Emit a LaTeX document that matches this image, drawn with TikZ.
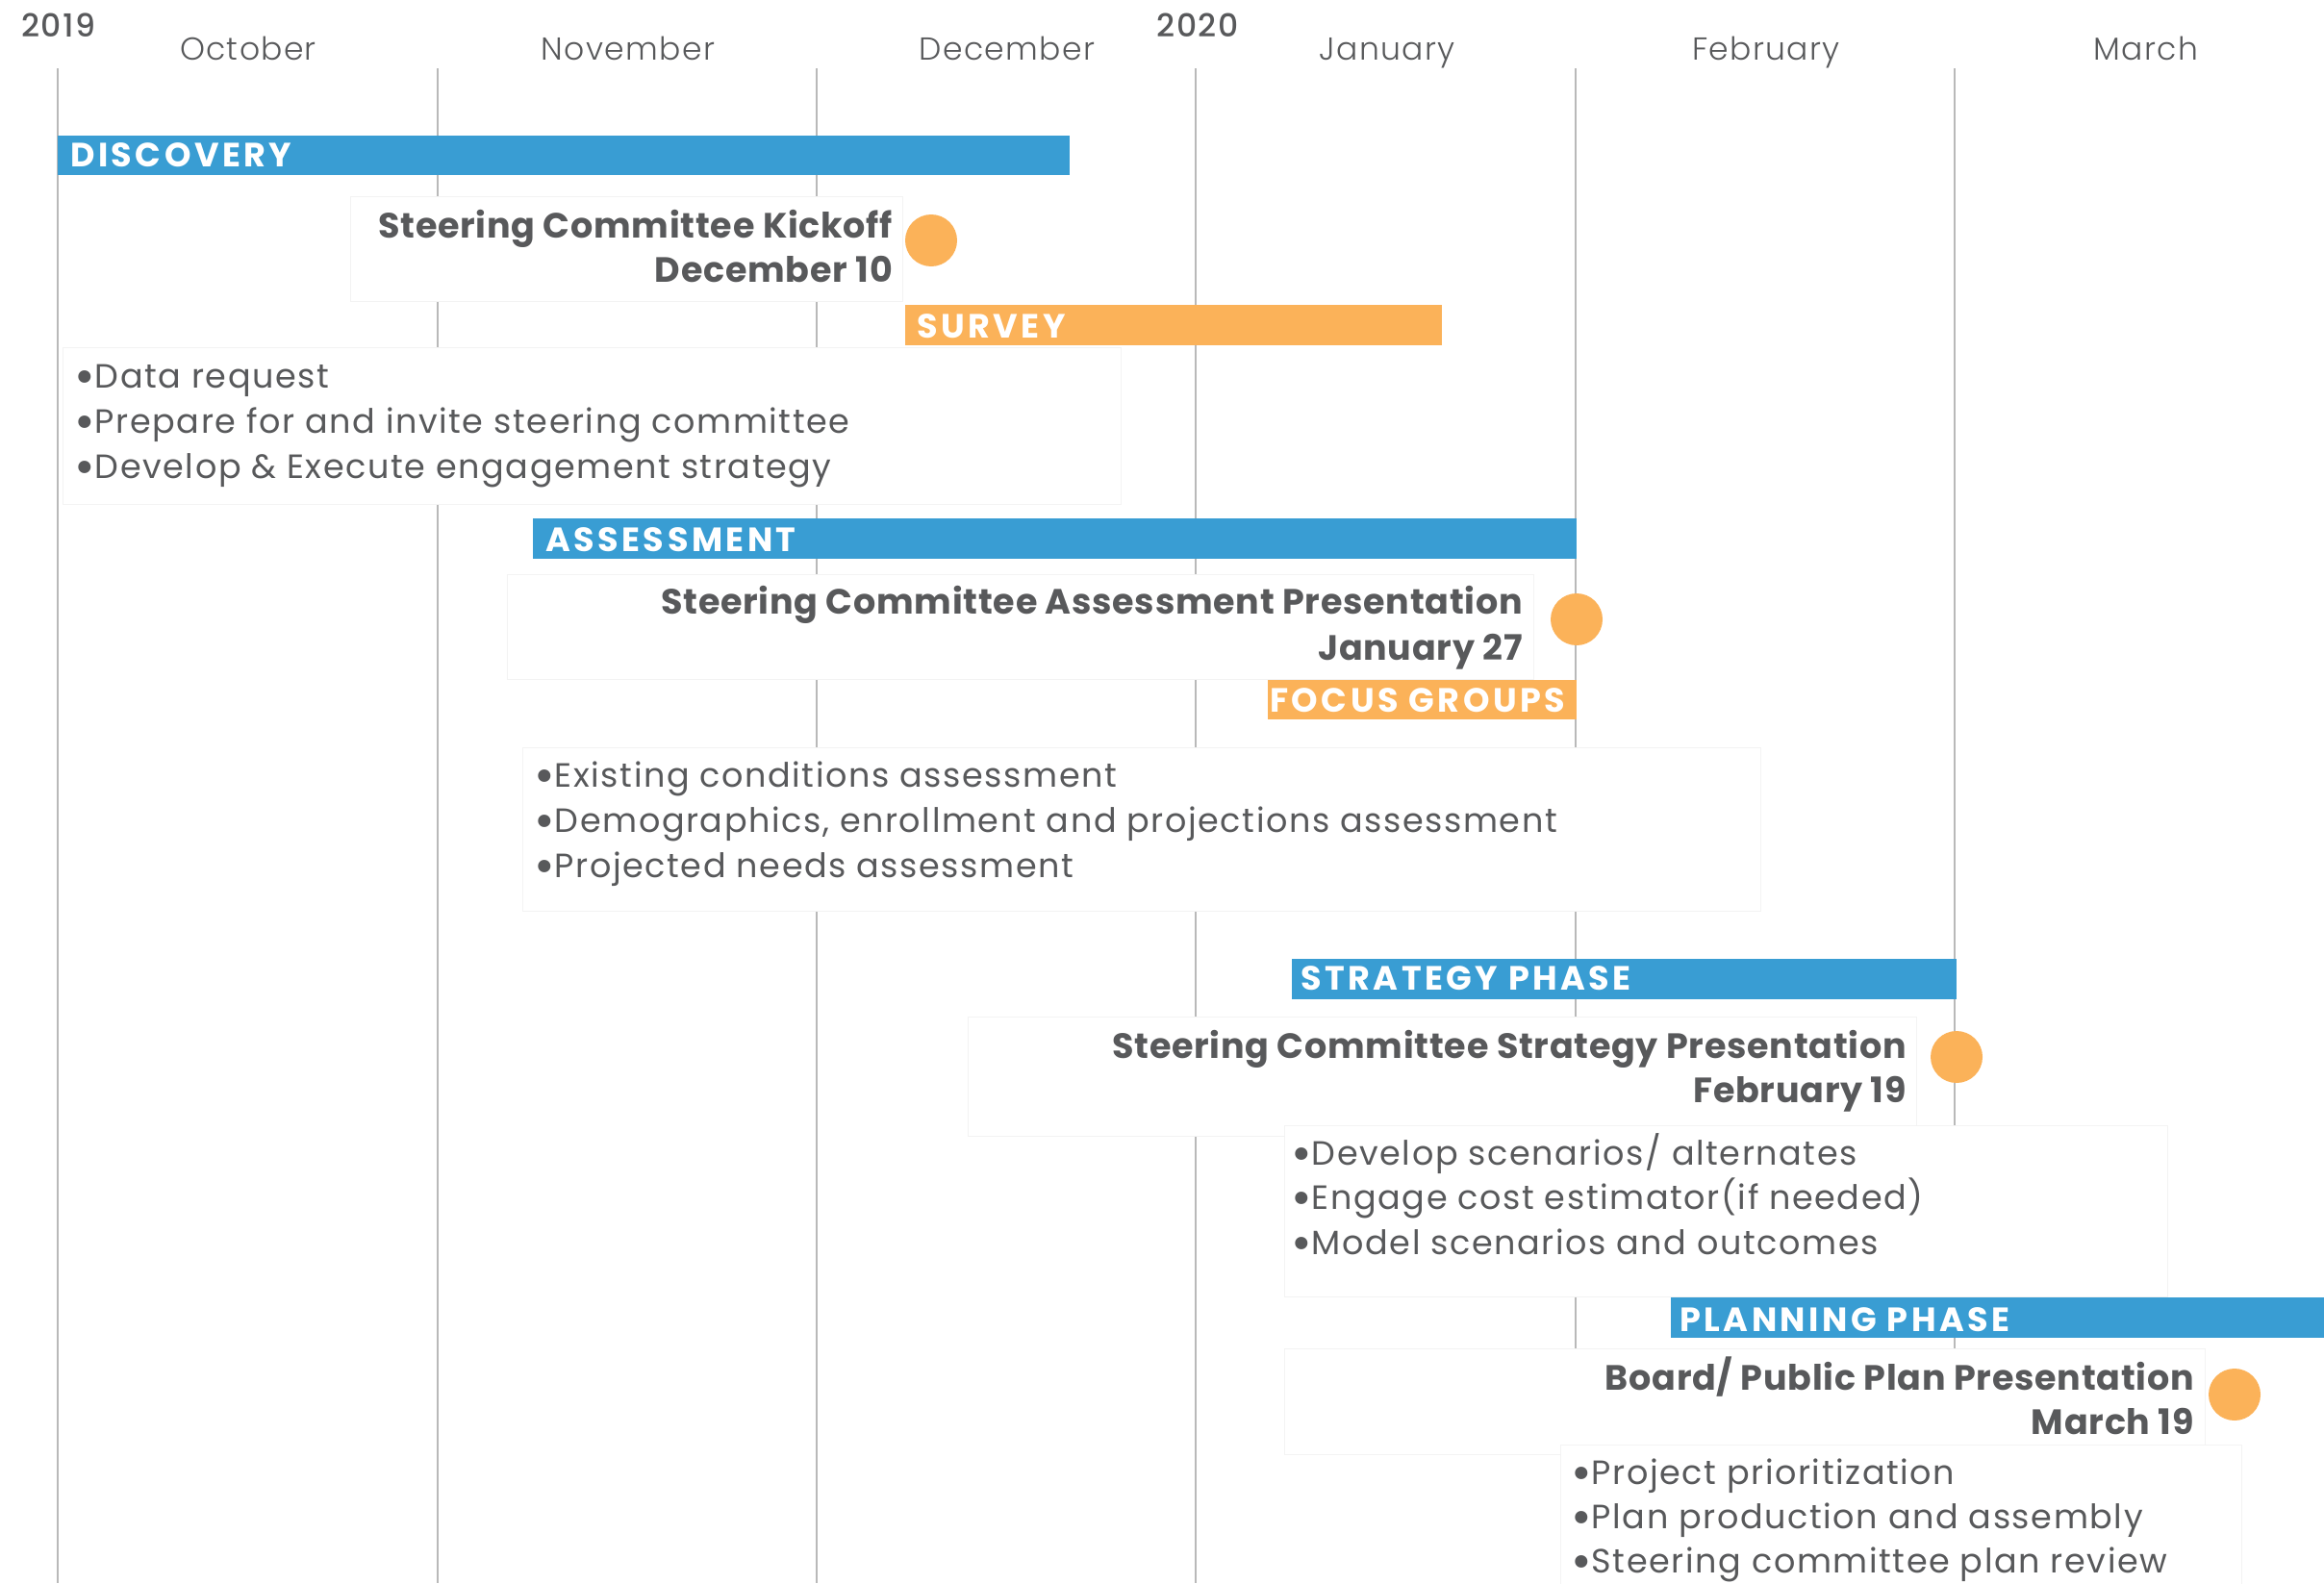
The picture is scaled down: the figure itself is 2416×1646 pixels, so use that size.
\documentclass[tikz,border=0pt]{standalone}
\usepackage{graphicx}
\usepackage{fontspec}
\setmainfont{Poppins}
\IfFontExistsTF{Poppins Light}
  {\newfontfamily\monthfont[LetterSpace=4]{Poppins Light}}
  {\newfontfamily\monthfont[LetterSpace=3]{Poppins}}
\IfFontExistsTF{Poppins Medium}
  {\newfontfamily\yearfont[LetterSpace=5]{Poppins Medium}}
  {\newfontfamily\yearfont[LetterSpace=5]{Poppins}}
\newfontfamily\bulletfont[LetterSpace=4.5]{Poppins}
\newfontfamily\msfont[LetterSpace=2]{Poppins}
\newfontfamily\barfont[LetterSpace=10]{Poppins}
\newcommand{\bul}{\raisebox{-6pt}{\scalebox{1.5}{•}}}
\definecolor{barblue}{RGB}{57,157,211}
\definecolor{barorange}{RGB}{251,178,89}
\definecolor{txt}{RGB}{88,89,91}
\definecolor{gridcol}{RGB}{185,185,185}
\definecolor{boxedge}{RGB}{243,243,243}
\begin{document}
\begin{tikzpicture}[x=1pt,y=-1pt,
  gridline/.style={draw=gridcol,line width=1.8pt},
  whitebox/.style={draw=boxedge,fill=white,line width=1pt},
  bartext/.style={text=white,font=\barfont\fontsize{35}{40}\selectfont\bfseries,anchor=base west,inner sep=0pt},
  monthlbl/.style={text=txt,font=\monthfont\fontsize{33}{38}\selectfont,anchor=base,inner sep=0pt},
  yearlbl/.style={text=txt,font=\yearfont\fontsize{33}{38}\selectfont,anchor=base,inner sep=0pt},
  mstext/.style={text=txt,font=\msfont\fontsize{36.5}{44}\selectfont\bfseries,anchor=base east,inner sep=0pt},
  bullettext/.style={text=txt,font=\bulletfont\fontsize{35}{44}\selectfont,anchor=base west,inner sep=0pt},
  milestone/.style={circle,fill=barorange,minimum size=54pt,inner sep=0pt}
]
\useasboundingbox (0,0) rectangle (2416,1646);
\fill[white] (0,0) rectangle (2416,1646);

% grid lines
\draw[gridline] (60,71) -- (60,1646);
\draw[gridline] (455,71) -- (455,1646);
\draw[gridline] (849,71) -- (849,1646);
\draw[gridline] (1243,71) -- (1243,1646);
\draw[gridline] (1638,71) -- (1638,1646);
\draw[gridline] (2032,71) -- (2032,1646);

% header
\node[yearlbl] (y2019) at (61,38) {2019};
\node[yearlbl] (y2020) at (1245,38) {2020};
\node[monthlbl] (oct) at (258,63) {October};
\node[monthlbl] (nov) at (653,63) {November};
\node[monthlbl] (dec) at (1047,63) {December};
\node[monthlbl] (jan) at (1442,63) {January};
\node[monthlbl] (feb) at (1836,63) {February};
\node[monthlbl] (mar) at (2231,63) {March};

% white boxes
\draw[whitebox] (364,204) rectangle (938,313);
\draw[whitebox] (65,361) rectangle (1165,524);
\draw[whitebox] (527,597) rectangle (1594,706);
\draw[whitebox] (543,777) rectangle (1830,947);
\draw[whitebox] (1006,1057) rectangle (1992,1181);
\draw[whitebox] (1335,1170) rectangle (2253,1348);
\draw[whitebox] (1335,1402) rectangle (2292,1512);
\draw[whitebox] (1622,1502) rectangle (2330,1660);

% bars
\fill[barblue] (60,141) rectangle (1112,182);
\fill[barorange] (941,317) rectangle (1499,359);
\fill[barblue] (554,539) rectangle (1639,581);
\fill[barorange] (1318,707) rectangle (1639,748);
\fill[barblue] (1343,997) rectangle (2034,1039);
\fill[barblue] (1737,1349) rectangle (2416,1391);

\node[bartext] (discovery) at (73,173) {DISCOVERY};
\node[bartext] (survey) at (953,351) {SURVEY};
\node[bartext] (assessment) at (567,573) {ASSESSMENT};
\node[bartext] (focus) at (1320,740) {FOCUS GROUPS};
\node[bartext] (strategy) at (1352,1029) {STRATEGY PHASE};
\node[bartext] (planning) at (1746,1384) {PLANNING PHASE};

% milestones
\node[milestone] (m1) at (968,250) {};
\node[milestone] (m2) at (1639,644) {};
\node[milestone] (m3) at (2034,1099) {};
\node[milestone] (m4) at (2323,1450) {};

\node[mstext] (k1) at (928,247) {Steering Committee Kickoff};
\node[mstext] (k2) at (928,293) {December 10};
\node[mstext] (a1) at (1583,638) {Steering Committee Assessment Presentation};
\node[mstext] (a2) at (1583,686) {January 27};
\node[mstext] (s1) at (1982,1100) {Steering Committee Strategy Presentation};
\node[mstext] (s2) at (1982,1146) {February 19};
\node[mstext] (p1) at (2281,1445) {Board/ Public Plan Presentation};
\node[mstext] (p2) at (2281,1491) {March 19};

% bullets
\node[bullettext] (d1) at (77,403) {\bul Data request};
\node[bullettext] (d2) at (77,450) {\bul Prepare for and invite steering committee};
\node[bullettext] (d3) at (77,497) {\bul Develop \& Execute engagement strategy};
\node[bullettext] (e1) at (555,818) {\bul Existing conditions assessment};
\node[bullettext] (e2) at (555,865) {\bul Demographics, enrollment and projections assessment};
\node[bullettext] (e3) at (555,912) {\bul Projected needs assessment};
\node[bullettext] (t1) at (1342,1211) {\bul Develop scenarios/ alternates};
\node[bullettext] (t2) at (1342,1257) {\bul Engage cost estimator(if needed)};
\node[bullettext] (t3) at (1342,1304) {\bul Model scenarios and outcomes};
\node[bullettext] (q1) at (1633,1543) {\bul Project prioritization};
\node[bullettext] (q2) at (1633,1589) {\bul Plan production and assembly};
\node[bullettext] (q3) at (1633,1635) {\bul Steering committee plan review};
\end{tikzpicture}
\end{document}
